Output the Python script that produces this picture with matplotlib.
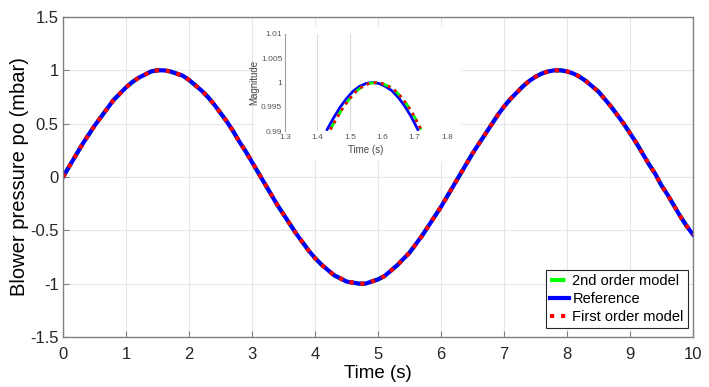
import matplotlib.pyplot as plt
from matplotlib.patches import Rectangle
import numpy as np

time_s = np.round(np.arange(0, 10.01, 0.1), 1)
reference = [0.00, 0.10, 0.20, 0.30, 0.39, 0.48, 0.56, 0.64, 0.72, 0.78,
             0.84, 0.89, 0.93, 0.96, 0.99, 1.00, 1.00, 0.99, 0.97, 0.95,
             0.91, 0.86, 0.81, 0.75, 0.68, 0.60, 0.52, 0.43, 0.33, 0.24,
             0.14, 0.04, -0.06, -0.16, -0.26, -0.35, -0.44, -0.53, -0.61, -0.69,
             -0.76, -0.82, -0.87, -0.92, -0.95, -0.98, -0.99, -1.00, -1.00, -0.98,
             -0.96, -0.93, -0.88, -0.83, -0.77, -0.71, -0.63, -0.55, -0.46, -0.37,
             -0.28, -0.18, -0.08, 0.02, 0.12, 0.22, 0.31, 0.40, 0.49, 0.58,
             0.66, 0.73, 0.79, 0.85, 0.90, 0.94, 0.97, 0.99, 1.00, 1.00,
             0.99, 0.97, 0.94, 0.90, 0.85, 0.80, 0.73, 0.66, 0.58, 0.50,
             0.41, 0.32, 0.22, 0.12, 0.03, -0.08, -0.17, -0.27, -0.37, -0.46,
             -0.54]
second_order = reference
first_order = reference

# zoomed peak in the inset
t_ref_zoom = [1.43, 1.45, 1.47, 1.49, 1.51, 1.53, 1.55, 1.57,
              1.59, 1.61, 1.63, 1.65, 1.67, 1.69, 1.71]
t_mod_zoom = [1.44, 1.46, 1.48, 1.50, 1.52, 1.54, 1.56, 1.58,
              1.60, 1.62, 1.64, 1.66, 1.68, 1.70, 1.72]
ref_zoom = [0.9903, 0.9927, 0.9949, 0.9967, 0.9982, 0.9992, 0.9998, 1.0000,
            0.9998, 0.9992, 0.9983, 0.9969, 0.9951, 0.9929, 0.9903]
mod_zoom = ref_zoom

xticks = list(range(0, 11))
yticks = [-1.5, -1, -0.5, 0, 0.5, 1, 1.5]
ytick_labels = ['-1.5', '-1', '-0.5', '0', '0.5', '1', '1.5']
in_xticks = [1.3, 1.4, 1.5, 1.6, 1.7, 1.8]
in_yticks = [0.99, 0.995, 1.0, 1.005, 1.01]
in_ytick_labels = ['0.99', '0.995', '1', '1.005', '1.01']

plt.rcParams['font.family'] = ['Liberation Sans', 'DejaVu Sans']

W, H = 709, 387
fig = plt.figure(figsize=(W / 100, H / 100), dpi=100)
ax = fig.add_axes([63 / W, 1 - 337 / H, 630 / W, 320 / H])

ax.plot(time_s, second_order, color='#00ff00', ls='--', lw=3, label='2nd order model')
ax.plot(time_s, reference, color='#0000ff', ls='-', lw=3, label='Reference')
ax.plot(time_s, first_order, color='#ff0000', ls=':', lw=3, label='First order model')

ax.set_xlim(0, 10)
ax.set_ylim(-1.5, 1.5)
ax.set_xticks(xticks)
ax.set_yticks(yticks)
ax.set_yticklabels(ytick_labels)
ax.grid(True, color='#e6e6e6', lw=0.8)
ax.set_axisbelow(True)
ax.tick_params(direction='in', length=4, color='#808080', labelsize=12,
               labelcolor='#262626', pad=3)
ax.tick_params(axis='x', pad=7)
for sp in ax.spines.values():
    sp.set_color('#808080')
    sp.set_linewidth(1)
ax.set_xlabel('Time (s)', fontsize=13.5, labelpad=2)
ax.set_ylabel('Blower pressure po (mbar)', fontsize=14.5, labelpad=1)

leg = ax.legend(loc='lower right', bbox_to_anchor=(625 / 630, 9 / 320),
                borderaxespad=0, fontsize=10.5, handlelength=1.3, handletextpad=0.2,
                borderpad=0.3, labelspacing=0.25, fancybox=False, framealpha=1)
leg.get_frame().set_edgecolor('#262626')
leg.get_frame().set_linewidth(0.8)

# white pasted area for the inset
fig.patches.append(Rectangle((255 / W, 1 - 160 / H), 205 / W, 133 / H,
                             transform=fig.transFigure, color='white', zorder=5))

axi = fig.add_axes([285 / W, 1 - 131 / H, 162 / W, 97 / H])
axi.set_zorder(6)
axi.patch.set_alpha(0)
axi.axvline(1.4, color='#dcdcdc', lw=0.8)
axi.axvline(1.5, color='#dcdcdc', lw=0.8)
axi.plot(t_ref_zoom, ref_zoom, color='#0000ff', lw=2)
axi.plot(t_mod_zoom, mod_zoom, color='#00ff00', ls='--', lw=2)
axi.plot(t_mod_zoom, mod_zoom, color='#ff0000', ls=':', lw=2)
axi.set_xlim(1.3, 1.8)
axi.set_ylim(0.99, 1.01)
axi.set_xticks(in_xticks)
axi.set_yticks(in_yticks)
axi.set_yticklabels(in_ytick_labels)
for name in ['top', 'right', 'bottom']:
    axi.spines[name].set_visible(False)
axi.spines['left'].set_color('#a0a0a0')
axi.tick_params(length=0, labelsize=6, labelcolor='#555555', pad=2)
axi.set_xlabel('Time (s)', fontsize=7, color='#444444', labelpad=3)
axi.set_ylabel('Magnitude', fontsize=7, color='#444444', labelpad=1)

fig.savefig('out.png', dpi=100)
